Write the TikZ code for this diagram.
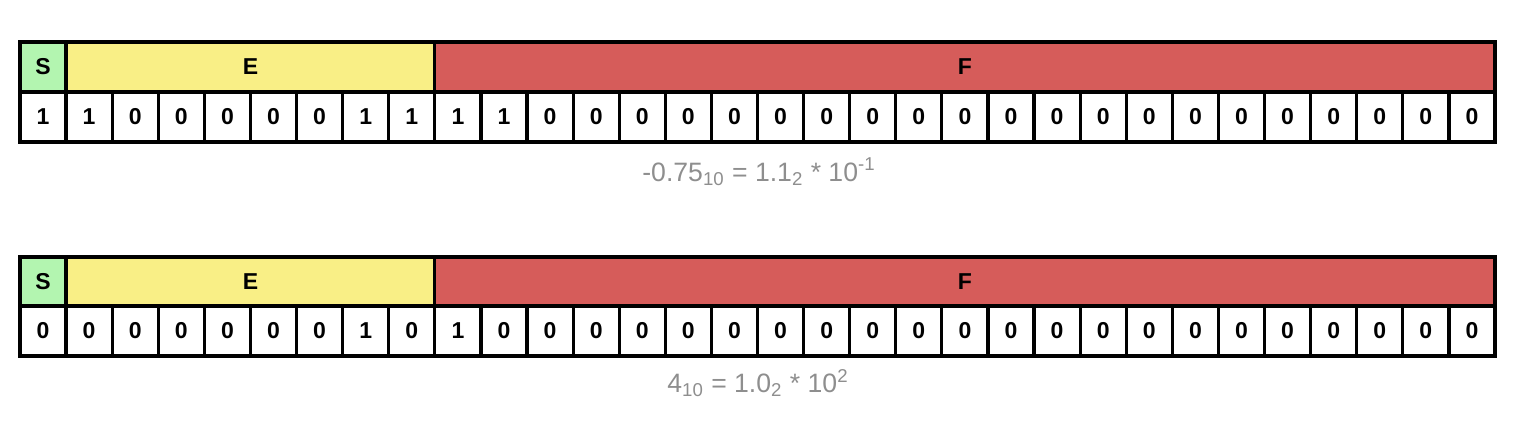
\documentclass[tikz,border=0pt]{standalone}
\usepackage{fontspec}
\setmainfont{Liberation Sans}
\definecolor{sgreen}{HTML}{B3F5B0}
\definecolor{eyellow}{HTML}{F9EF86}
\definecolor{fred}{HTML}{D65C5A}
\definecolor{capgray}{HTML}{8E8E8E}
\begin{document}
\begin{tikzpicture}[x=0.5pt,y=-0.5pt]
\useasboundingbox (0,0) rectangle (1520,440);
\tikzset{
  cellbox/.style={draw=black, line width=1.6pt, minimum height=25pt, inner sep=0pt, outer sep=0pt,
    anchor=north west, font=\bfseries\fontsize{11.5}{13}\selectfont},
  bitbox/.style={cellbox, fill=white, minimum width=23.047pt},
  capt/.style={font=\fontsize{13.3}{15}\selectfont, text=capgray, inner sep=0pt}
}
\def\cw{46.094}
% ---------- row 1 ----------
\node[cellbox, fill=sgreen, minimum width=23.047pt] (s1) at (20,42) {S};
\node[cellbox, fill=eyellow, minimum width=184.375pt] (e1) at (66.094,42) {E};
\node[cellbox, fill=fred, minimum width=530.08pt] (f1) at (434.844,42) {F};
\foreach \b [count=\i from 0] in {1,1,0,0,0,0,0,1,1,1,1,0,0,0,0,0,0,0,0,0,0,0,0,0,0,0,0,0,0,0,0,0}{
  \node[bitbox] (ba\i) at ({20+\i*\cw},92) {\b};
}
\node[capt] (c1) at (759,172) {-0.75\textsubscript{10} = 1.1\textsubscript{2} * 10\textsuperscript{-1}};
% ---------- row 2 ----------
\node[cellbox, fill=sgreen, minimum width=23.047pt] (s2) at (20,257) {S};
\node[cellbox, fill=eyellow, minimum width=184.375pt] (e2) at (66.094,257) {E};
\node[cellbox, fill=fred, minimum width=530.08pt] (f2) at (434.844,257) {F};
\foreach \b [count=\i from 0] in {0,0,0,0,0,0,0,1,0,1,0,0,0,0,0,0,0,0,0,0,0,0,0,0,0,0,0,0,0,0,0,0}{
  \node[bitbox] (bb\i) at ({20+\i*\cw},306) {\b};
}
\node[capt] (c2) at (758,383) {4\textsubscript{10} = 1.0\textsubscript{2} * 10\textsuperscript{2}};
\end{tikzpicture}
\end{document}
